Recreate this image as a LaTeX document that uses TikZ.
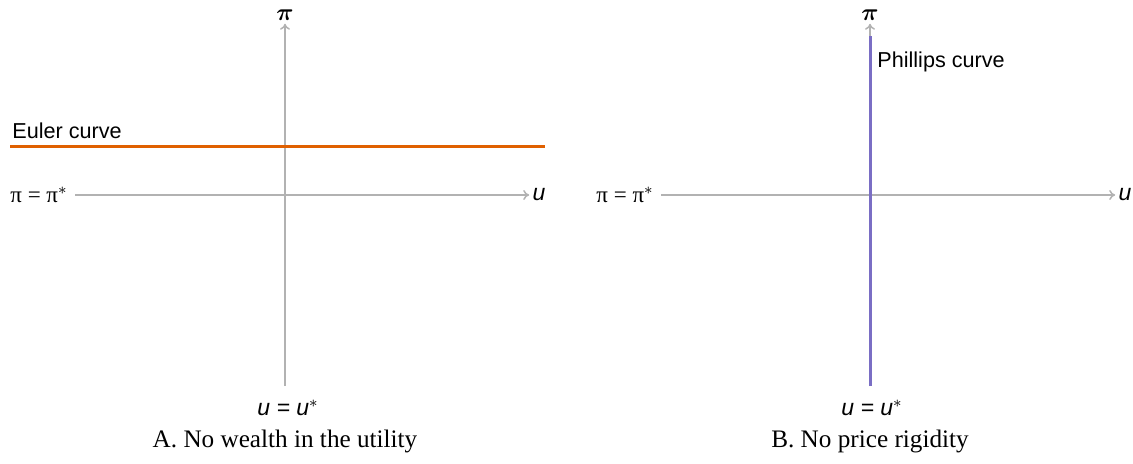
\documentclass[tikz,border=0pt]{standalone}
\usepackage{fontspec}
\usepackage{amsmath}
\setmainfont{Liberation Serif}
\setsansfont{Liberation Sans}
\usetikzlibrary{arrows.meta, positioning}
\definecolor{eulerorange}{RGB}{224, 96, 0}
\definecolor{phillipspurple}{RGB}{122, 110, 196}
\definecolor{axisgray}{RGB}{178, 178, 178}

\begin{document}
\begin{tikzpicture}[
          x=0.5pt, y=-0.5pt,
          axisline/.style={draw=axisgray, line width=0.75pt, -{To[length=3pt, width=5pt]}},
          eulerline/.style={draw=eulerorange, line width=1.5pt},
          phillipsline/.style={draw=phillipspurple, line width=1.5pt},
          axislabel/.style={font=\sffamily\fontsize{11.5}{13}\selectfont, inner sep=0pt},
          targetlabel/.style={font=\fontsize{11.5}{13}\selectfont, inner sep=0pt},
          pilabel/.style={font=\fontsize{13}{15}\selectfont, inner sep=0pt},
          curvelabel/.style={font=\sffamily\fontsize{10.8}{13}\selectfont, inner sep=0pt},
          panelcaption/.style={font=\fontsize{12.6}{15}\selectfont, inner sep=0pt}
        ]
          \useasboundingbox (0,0) rectangle (1133,463);

          % Panel A: no wealth in the utility
          \coordinate (originA) at (285,386);
          \node[pilabel] (piA) at (285,15) {$\boldsymbol{\pi}$};
          \node[axislabel] (uA) at (539,195) {\itshape u};
          \node[targetlabel, anchor=east] (targetA) at (68,195) {π = π$^*$};
          \node[axislabel] (ustarA) at (288,408) {\itshape u = u$^*$};
          \draw[axisline, shorten >=1.5pt] (originA) -- (piA.south);
          \draw[axisline, shorten <=3.5pt, shorten >=1.5pt] (targetA.east) -- (uA.west);

          % Euler curve (flat)
          \coordinate (eulerL) at (10,146);
          \coordinate (eulerR) at (545,146);
          \draw[eulerline] (eulerL) -- (eulerR);
          \node[curvelabel, anchor=base west] (eulerlab) at (12,138) {Euler curve};

          \node[panelcaption, anchor=base] (capA) at (285,447) {A. No wealth in the utility};

          % Panel B: no price rigidity
          \coordinate (originB) at (870,386);
          \node[pilabel] (piB) at (870,15) {$\boldsymbol{\pi}$};
          \node[axislabel] (uB) at (1125,195) {\itshape u};
          \node[targetlabel, anchor=east] (targetB) at (654,195) {π = π$^*$};
          \node[axislabel] (ustarB) at (872,408) {\itshape u = u$^*$};
          \draw[axisline, shorten >=1.5pt] (originB) -- (piB.south);
          \draw[axisline, shorten <=3.5pt, shorten >=1.5pt] (targetB.east) -- (uB.west);

          % Phillips curve (vertical)
          \coordinate (phillipsB) at (870,36);
          \draw[phillipsline] (originB) -- (phillipsB);
          \node[curvelabel, anchor=base west] (phillipslab) at (877,67) {Phillips curve};

          \node[panelcaption, anchor=base] (capB) at (870,447) {B. No price rigidity};
        \end{tikzpicture}
\end{document}
